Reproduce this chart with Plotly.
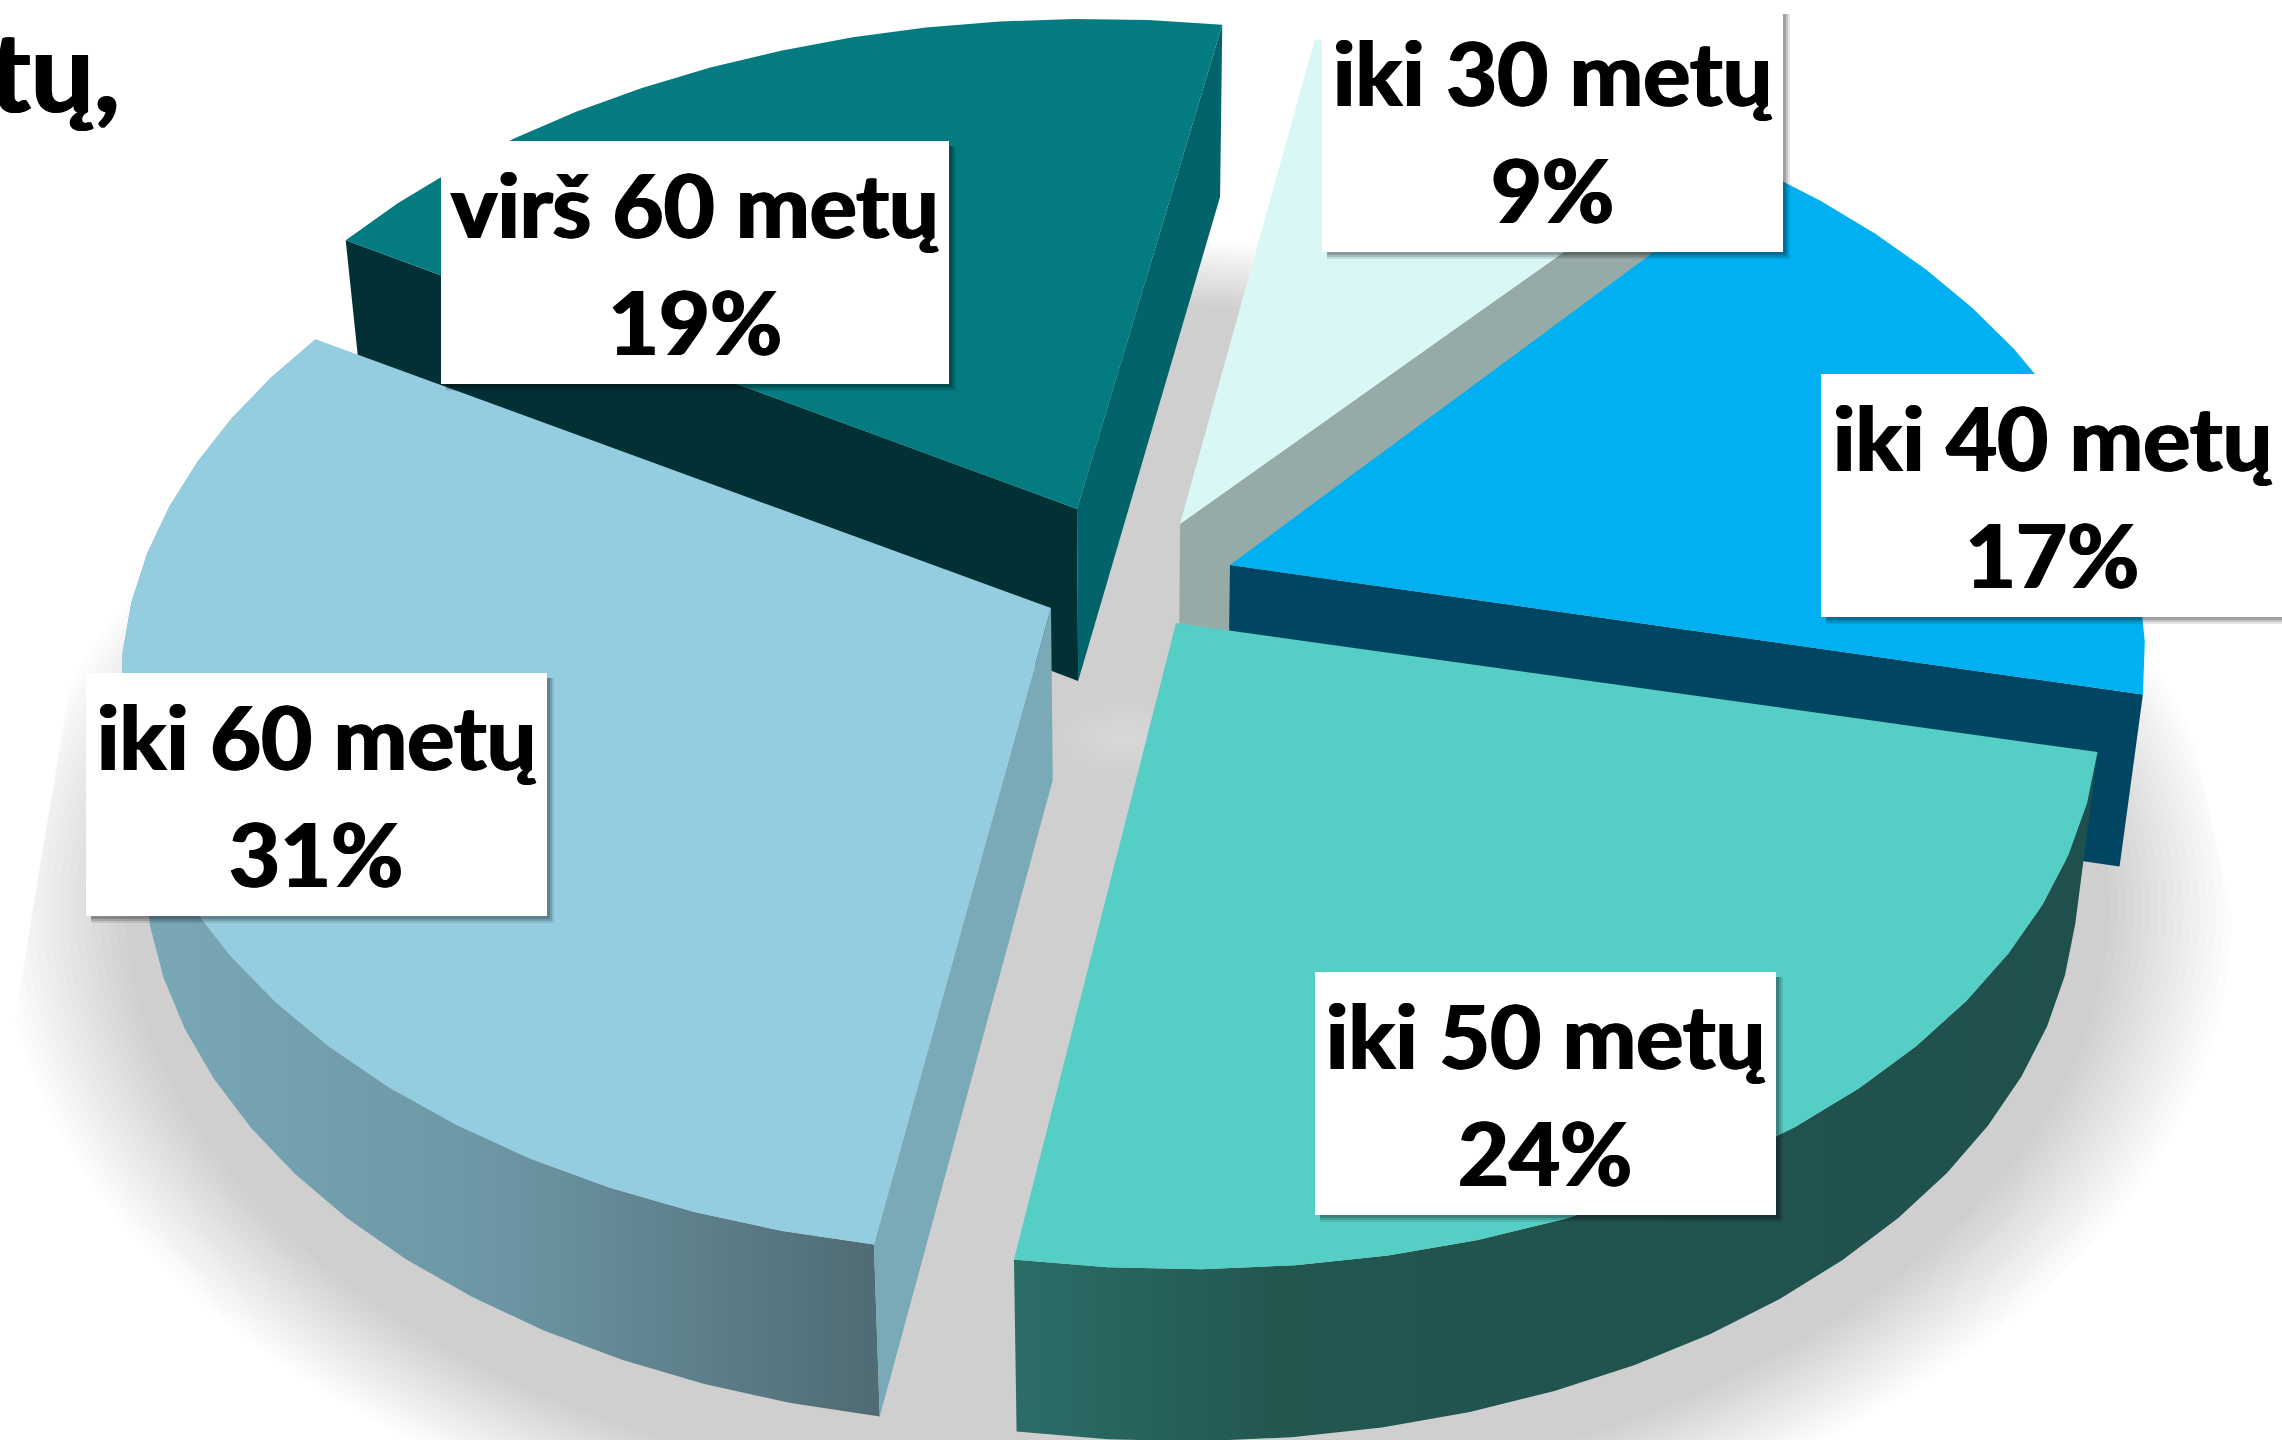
import numpy as np
import plotly.graph_objects as go

# ---- data (clockwise from 12 o'clock) ----
AGE_GROUPS = ["iki 30 metų", "iki 40 metų", "iki 50 metų", "iki 60 metų", "virš 60 metų"]
PERCENT = [9, 17, 24, 31, 19]
TITLE_FRAGMENT = "tų,"

# ---- styles ----
TOP = ["#d9f8f5", "#00b0f0", "#55cec6", "#95cde0", "#047b80"]
W, H = 2282, 1440
FONT = "Lato"
HEAVY = "1.2px 0 0 #000, -1.2px 0 0 #000"

# ---- projection of the tilted 3-D pie ----
U = np.array([915.0, 92.0])
V = np.array([153.0, -550.0])
K, M = 0.136, -0.02
DEPTH, CONV = 172.0, 0.023
CX = 1128.0
# where each exploded wedge's point sits on the page, and its small warp
APEX_X = [1180, 1230, 1176, 1051, 1077]
APEX_Y = [524, 565, 623, 608, 509]
WARP_U = [0.94, 0.98, 0.99, 0.99, 0.99]
WARP_VX = [153, 128, 140, 153, 165]
WARP_VY = [-550, -572, -550, -550, -550]

def proj(theta, r, c, su=1.0, vx=V[0], vy=V[1]):
    x, y = r * np.sin(theta), r * np.cos(theta)
    w = 1 + K * y / max(r, 1) + M * x / max(r, 1)
    return (c[0] + (x * su * U[0] + y * vx) / w,
            c[1] + (x * su * U[1] + y * vy) / w)

def drop(px, py):
    return px - CONV * (px - CX), py + DEPTH

fig = go.Figure()

def poly(x, y, color=None, gradient=None):
    kw = dict(fillgradient=gradient) if gradient else dict(fillcolor=color)
    fig.add_trace(go.Scatter(x=list(x), y=list(y), mode="lines", fill="toself",
                             line=dict(width=0, color="rgba(0,0,0,0)"),
                             hoverinfo="skip", showlegend=False, **kw))

# soft ground shadow, cut to a trapezoid like the source picture
def clip_shadow(sx, sy):
    sy = np.maximum(sy, 153)
    left = 87 - (sy - 582) * 58 / 349
    right = 2168 + (sy - 626) * 58 / 262
    return np.clip(sx, left, right), sy

full = np.linspace(0, 2 * np.pi, 181)
for r in np.linspace(1.19, 1.06, 16):
    sx, sy = proj(full, r, (1120, 822))
    poly(*clip_shadow(sx, sy), "rgba(0,0,0,0.0135)")
# pale glow on the ground in the middle
for r in np.linspace(0.075, 0.02, 8):
    gx, gy = 1125 + r * 950 * np.cos(full), 738 + r * 500 * np.sin(full)
    poly(gx, gy, "rgba(255,255,255,0.035)")

# wedge angles from the values
edges = np.cumsum([0] + PERCENT) / sum(PERCENT) * 2 * np.pi

def wedge(i):
    a0, a1 = edges[i], edges[i + 1]
    t = np.linspace(a0, a1, max(int((a1 - a0) / np.radians(5)), 2) + 1)
    c = (APEX_X[i], APEX_Y[i])
    return t, c, proj(t, 1.0, c, WARP_U[i], WARP_VX[i], WARP_VY[i])

def radial_face(i, rim_index, color):
    t, c, (rx, ry) = wedge(i)
    p = (rx[rim_index], ry[rim_index])
    pd = drop(*p)
    cd = drop(*c)
    poly([c[0], p[0], pd[0], cd[0]], [c[1], p[1], pd[1], cd[1]], color)

def outer_face(i, colorscale):
    t, c, (rx, ry) = wedge(i)
    dx, dy = drop(rx, ry)
    poly(np.r_[rx, dx[::-1]], np.r_[ry, dy[::-1]],
         gradient=dict(type="horizontal", colorscale=colorscale))

def top(i):
    t, c, (rx, ry) = wedge(i)
    poly(np.r_[c[0], rx], np.r_[c[1], ry], TOP[i])

# back to front: virš 60, iki 30, iki 40, iki 60, iki 50
radial_face(4, 0, "#013135")
radial_face(4, -1, "#03636a")
top(4)
radial_face(0, -1, "#96aba8")
top(0)
radial_face(1, -1, "#004561")
top(1)
outer_face(3, [[0, "#7aa9b8"], [0.5, "#6c96a4"], [1, "#4f6b73"]])
radial_face(3, 0, "#7aa9b8")
top(3)
outer_face(2, [[0, "#2c6d68"], [0.25, "#22564f"], [1, "#1f504e"]])
top(2)

# label boxes
BOX_L = [1322, 1821, 1315, 86, 441]
BOX_T = [9, 374, 972, 673, 141]
BOX_W = [461, 470, 461, 461, 508]
BOX_H = 243
TEXT_X = [1552, 2052, 1545, 316, 695]

shapes, ann = [], []
for i, name in enumerate(AGE_GROUPS):
    x0, y0, x1, y1 = BOX_L[i], BOX_T[i], BOX_L[i] + BOX_W[i], BOX_T[i] + BOX_H
    for g, a in [(7, 0.10), (5, 0.14), (3, 0.18)]:
        shapes.append(dict(type="rect", xref="x", yref="y", layer="above",
                           x0=x0 + 5, x1=x1 + g, y0=y0 + 5, y1=y1 + g,
                           fillcolor=f"rgba(0,0,0,{a})", line=dict(width=0)))
    shapes.append(dict(type="rect", xref="x", yref="y", layer="above",
                       x0=x0, x1=x1, y0=y0, y1=y1, fillcolor="white", line=dict(width=0)))
    for text, dy in [(name, 63), (f"{PERCENT[i]}%", 180)]:
        ann.append(dict(x=TEXT_X[i], y=y0 + dy, xref="x", yref="y", text=f"<b>{text}</b>",
                        showarrow=False, xanchor="center", yanchor="middle",
                        font=dict(family=FONT, size=88, color="black", shadow=HEAVY)))
ann.append(dict(x=122, y=68, xref="x", yref="y", text=f"<b>{TITLE_FRAGMENT}</b>", showarrow=False,
                xanchor="right", yanchor="middle",
                font=dict(family=FONT, size=112, color="black", shadow=HEAVY)))

fig.update_layout(width=W, height=H, margin=dict(l=0, r=0, t=0, b=0),
                  paper_bgcolor="white", plot_bgcolor="white", shapes=shapes, annotations=ann,
                  xaxis=dict(range=[0, W], visible=False, fixedrange=True),
                  yaxis=dict(range=[H, 0], visible=False, fixedrange=True))
fig.write_html("out.html", config=dict(displayModeBar=False),
               post_script="document.body.style.margin=0;document.body.style.overflow='hidden';")
